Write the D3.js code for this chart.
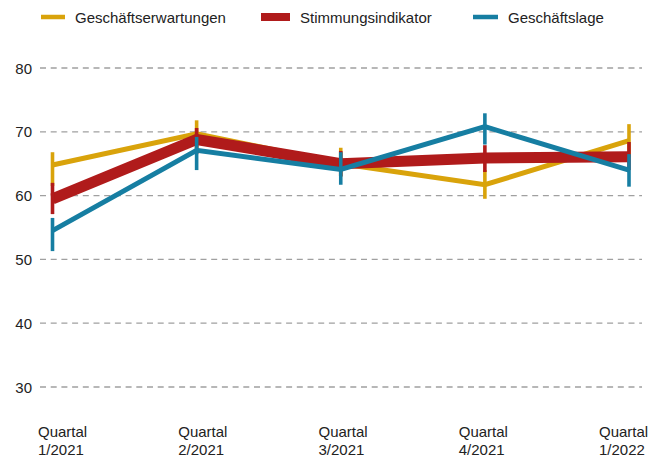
<!DOCTYPE html>
<html>
<head>
<meta charset="utf-8">
<script src="https://cdn.jsdelivr.net/npm/d3@7"></script>
<style>
  body { margin: 0; background: #fff; }
  text { font-family: "Liberation Sans", Arial, sans-serif; fill: #222; }
</style>
</head>
<body>
<div id="chart"></div>
<script>

// quarters on the x axis
var quarters = ["Q1-2021", "Q2-2021", "Q3-2021", "Q4-2021", "Q1-2022"];
var quarterLines = [["Quartal", "1/2021"], ["Quartal", "2/2021"], ["Quartal", "3/2021"], ["Quartal", "4/2021"], ["Quartal", "1/2022"]];
var yTicks = [30, 40, 50, 60, 70, 80];

// series values and their range bars (low / high)
var erwartungen     = [64.8, 69.7, 65.0, 61.7, 68.6];
var erwartungenLow  = [61.5, 67.5, 63.0, 59.5, 66.0];
var erwartungenHigh = [66.8, 71.8, 67.5, 64.0, 71.2];

var stimmung     = [59.5, 68.8, 65.0, 65.9, 66.1];
var stimmungLow  = [57.1, 66.5, 63.0, 63.7, 64.0];
var stimmungHigh = [62.0, 70.6, 67.0, 67.9, 68.4];

var lage     = [54.5, 67.1, 64.1, 70.8, 64.0];
var lageLow  = [51.3, 64.0, 61.7, 68.0, 61.4];
var lageHigh = [56.5, 69.2, 66.8, 72.9, 66.5];

var seriesNames = ["Geschäftserwartungen", "Stimmungsindikator", "Geschäftslage"];
var seriesColors = ["#d9a30b", "#b01b1b", "#167ea2"];

var svgWidth = 657;
var svgHeight = 461;

var svg = d3.select("#chart")
            .append("svg")
              .attr("width", svgWidth)
              .attr("height", svgHeight);

var x = d3.scalePoint().domain(quarters).range([52.5, 629]);
var xLabel = d3.scalePoint().domain(quarters).range([38, 599]);
var y = d3.scaleLinear().domain([30, 80]).range([387, 68]);

// dashed grid lines
svg.selectAll()
   .data(yTicks)
   .enter()
   .append("line")
   .attr("x1", 40)
   .attr("x2", 642)
   .attr("y1", function(d) { return y(d) })
   .attr("y2", function(d) { return y(d) })
   .style("stroke", "#a0a0a0")
   .style("stroke-width", 1.3)
   .style("stroke-dasharray", "6,4.7");

// y tick labels
svg.selectAll()
   .data(yTicks)
   .enter()
   .append("text")
   .attr("x", 32)
   .attr("y", function(d) { return y(d) })
   .attr("text-anchor", "end")
   .attr("dominant-baseline", "central")
   .style("font-size", "15px")
   .text(function(d) { return d });

// x labels, two lines each
var xl = svg.selectAll()
   .data(quarters)
   .enter()
   .append("text")
   .attr("x", function(d) { return xLabel(d) })
   .attr("y", 437)
   .style("font-size", "15px");
xl.append("tspan")
  .attr("x", function(d) { return xLabel(d) })
  .text(function(d, i) { return quarterLines[i][0] });
xl.append("tspan")
  .attr("x", function(d) { return xLabel(d) })
  .attr("dy", 18)
  .text(function(d, i) { return quarterLines[i][1] });

var series = [
  { values: erwartungen, low: erwartungenLow, high: erwartungenHigh, width: 5 },
  { values: stimmung, low: stimmungLow, high: stimmungHigh, width: 11 },
  { values: lage, low: lageLow, high: lageHigh, width: 5 }
];

series.forEach(function(s, k) {
  var line = d3.line()
               .x(function(d, i) { return x(quarters[i]) })
               .y(function(d) { return y(d) });

  svg.append("path")
     .datum(s.values)
     .attr("d", line)
     .style("fill", "none")
     .style("stroke", seriesColors[k])
     .style("stroke-width", s.width)
     .style("stroke-linejoin", "miter");

  // range bars
  svg.selectAll()
     .data(s.values)
     .enter()
     .append("line")
     .attr("x1", function(d, i) { return x(quarters[i]) })
     .attr("x2", function(d, i) { return x(quarters[i]) })
     .attr("y1", function(d, i) { return y(s.high[i]) })
     .attr("y2", function(d, i) { return y(s.low[i]) })
     .style("stroke", seriesColors[k])
     .style("stroke-width", 3.6);
});

// legend
var legendX = [41, 261, 473];
var legendW = [24, 29, 25];
var legendH = [4.5, 8, 4.5];
seriesNames.forEach(function(name, k) {
  svg.append("rect")
     .attr("x", legendX[k])
     .attr("y", 17 - legendH[k] / 2)
     .attr("width", legendW[k])
     .attr("height", legendH[k])
     .style("fill", seriesColors[k]);
  svg.append("text")
     .attr("x", legendX[k] + legendW[k] + 10)
     .attr("y", 17)
     .attr("dominant-baseline", "central")
     .style("font-size", "15px")
     .text(name);
});

</script>
</body>
</html>
